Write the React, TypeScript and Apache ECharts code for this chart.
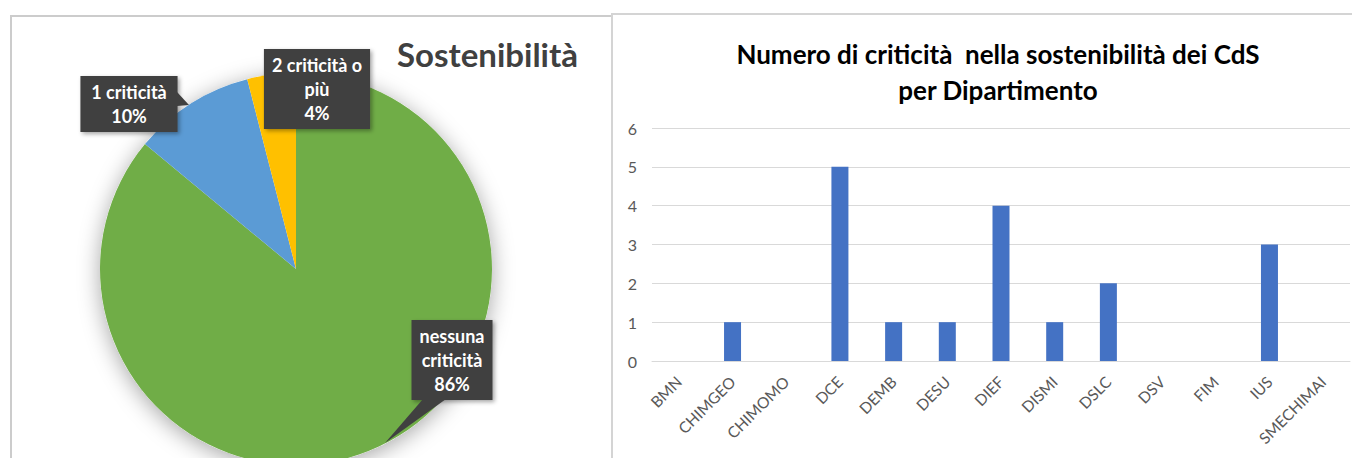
import React, { useEffect, useRef } from "react";
import * as echarts from "echarts";

const pieLabels = ["nessuna\ncriticità", "1 criticità", "2 criticità o\npiù"];
const pieNames = ["nessuna criticità", "1 criticità", "2 criticità o più"];
const pieValues = [86, 10, 4];
const pieColors = ["#70AD47", "#5B9BD5", "#FFC000"];
const pieLabelCenters = [
  [452, 360],
  [129, 104],
  [317, 89],
];

const departments = [
  "BMN",
  "CHIMGEO",
  "CHIMOMO",
  "DCE",
  "DEMB",
  "DESU",
  "DIEF",
  "DISMI",
  "DSLC",
  "DSV",
  "FIM",
  "IUS",
  "SMECHIMAI",
];
const criticalCounts = [0, 1, 0, 5, 1, 1, 4, 1, 2, 0, 0, 3, 0];

const FONT = "Lato, 'Open Sans', sans-serif";

export default function App() {
  const ref = useRef<HTMLDivElement>(null);

  useEffect(() => {
    document.body.style.margin = "0";
    if (!ref.current) return;
    const chart = echarts.init(ref.current, null, { renderer: "svg" });
    const option: any = {
      animation: false,
      backgroundColor: "#ffffff",
      textStyle: { fontFamily: FONT },
      title: [
        {
          text: "Sostenibilità",
          left: 392,
          top: 32,
          textStyle: { fontFamily: FONT, fontSize: 33, fontWeight: "bold", color: "#404040" },
        },
        {
          text: "Numero di criticità  nella sostenibilità dei CdS\nper Dipartimento",
          left: 993,
          top: 31,
          textAlign: "center",
          textStyle: {
            fontFamily: FONT,
            fontSize: 26,
            fontWeight: "bold",
            color: "#000000",
            lineHeight: 36,
          },
        },
      ],
      graphic: [
        {
          type: "polyline",
          shape: { points: [[11, 458], [11, 16], [611, 16]] },
          style: { stroke: "#cccccc", lineWidth: 2, fill: null },
          z: 0,
        },
        {
          type: "polyline",
          shape: { points: [[612, 458], [612, 14], [1352, 14]] },
          style: { stroke: "#d4d4d4", lineWidth: 2, fill: null },
          z: 0,
        },
        {
          type: "polygon",
          shape: { points: [[423, 399], [446, 399], [385, 443]] },
          style: { fill: "#404040" },
          z: 100,
        },
        {
          type: "polygon",
          shape: { points: [[177, 92], [177, 106], [189, 105]] },
          style: { fill: "#404040" },
          z: 100,
        },
      ],
      grid: { left: 652, right: 2, top: 128, bottom: 97 },
      xAxis: {
        type: "category",
        data: departments,
        axisLine: { lineStyle: { color: "#d9d9d9", width: 1 } },
        axisTick: { show: false },
        axisLabel: {
          rotate: 45,
          interval: 0,
          color: "#595959",
          fontSize: 15.5,
          fontFamily: FONT,
          margin: 18,
        },
      },
      yAxis: {
        type: "value",
        min: 0,
        max: 6,
        interval: 1,
        axisLine: { show: false },
        axisTick: { show: false },
        splitLine: { lineStyle: { color: "#d9d9d9", width: 1 } },
        axisLabel: { color: "#595959", fontSize: 16, fontFamily: FONT, margin: 15 },
      },
      series: [
        {
          type: "bar",
          data: criticalCounts,
          barWidth: 17,
          itemStyle: { color: "#4472C4" },
        },
        {
          type: "pie",
          silent: true,
          center: [296, 269],
          radius: 196,
          z: 1,
          label: { show: false },
          labelLine: { show: false },
          data: [
            {
              value: 1,
              itemStyle: {
                color: "#ffffff",
                shadowBlur: 22,
                shadowColor: "rgba(0,0,0,0.35)",
                shadowOffsetX: 0,
                shadowOffsetY: 4,
              },
            },
          ],
        },
        {
          type: "pie",
          center: [296, 269],
          radius: 196,
          startAngle: 90,
          clockwise: true,
          z: 2,
          data: pieValues.map((v, i) => ({
            value: v,
            name: pieNames[i],
            itemStyle: { color: pieColors[i] },
          })),
          label: {
            show: true,
            position: "outside",
            formatter: (p: any) => pieLabels[p.dataIndex] + "\n" + p.value + "%",
            color: "#ffffff",
            fontFamily: FONT,
            fontSize: 18,
            fontWeight: "bold",
            lineHeight: 24,
            align: "center",
            backgroundColor: "#404040",
            padding: [4, 8],
            shadowBlur: 4,
            shadowColor: "rgba(0,0,0,0.35)",
            shadowOffsetX: 2,
            shadowOffsetY: 2,
          },
          labelLine: { show: false },
          labelLayout: (params: any) => {
            const c = pieLabelCenters[params.dataIndex];
            return { x: c[0], y: c[1], align: "center", verticalAlign: "middle" };
          },
        },
      ],
    };
    chart.setOption(option);
    return () => chart.dispose();
  }, []);

  return <div ref={ref} style={{ width: 1352, height: 458 }} />;
}
